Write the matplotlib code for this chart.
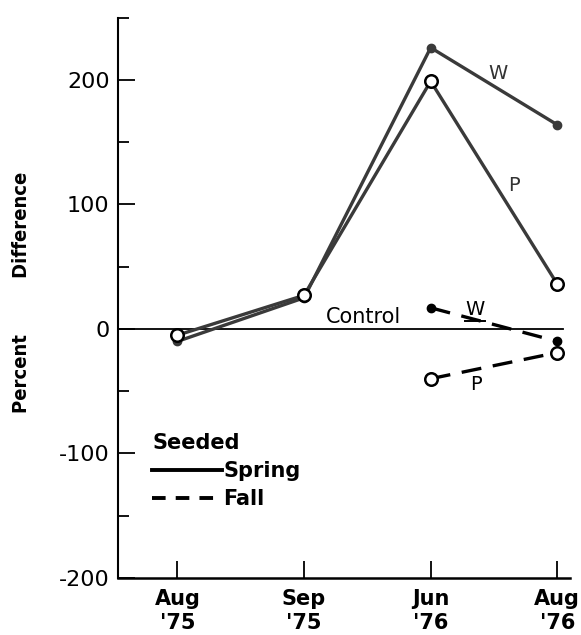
import matplotlib
matplotlib.use("Agg")
import matplotlib.pyplot as plt
import numpy as np

categories = ["Aug\n'75", "Sep\n'75", "Jun\n'76", "Aug\n'76"]
spring_w = [-10, 25, 226, 164]
spring_p = [-5, 27, 199, 36]
fall_w = [17, -10]
fall_p = [-40, -19]
fall_idx = [2, 3]
yticks_major = [-200, -100, 0, 100, 200]
ytick_labels = ["-200", "-100", "0", "100", "200"]
yticks_minor = [-150, -50, 50, 150, 250]

plt.rcParams['font.family'] = ['DejaVu Sans']
fig = plt.figure(figsize=(5.81, 6.35), dpi=100)
ax = fig.add_axes([0.203, 0.09, 0.778, 0.882])

x = np.arange(len(categories))
lc = '#3a3a3a'
lw = 2.4
dash = (0, (6, 3.5))
ax.plot(x, spring_w, '-', color=lc, lw=lw, marker='o', ms=6, mfc=lc, mec=lc, zorder=3)
ax.plot(x, spring_p, '-', color=lc, lw=lw, marker='o', ms=9, mfc='white', mec='black', mew=1.8, zorder=4)
ax.plot(fall_idx, fall_w, color='black', lw=2.4, ls=dash, marker='o', ms=6, mfc='black', mec='black', zorder=3)
ax.plot(fall_idx, fall_p, color='black', lw=2.4, ls=dash, marker='o', ms=9, mfc='white', mec='black', mew=1.8, zorder=4)

ax.axhline(0, color='black', lw=1.3, xmin=0, xmax=0.985, zorder=1)
ax.text(1.47, 1.5, 'Control', fontsize=15, ha='center', va='bottom')

ax.text(2.53, 205, 'W', fontsize=14, ha='center', va='center', color='#333333')
ax.text(2.66, 115, 'P', fontsize=14, ha='center', va='center', color='#333333')
ax.text(2.35, 16, 'W', fontsize=14, ha='center', va='center')
ax.plot([2.27, 2.43], [6, 6], color='black', lw=1.4)
ax.text(2.36, -45, 'P', fontsize=14, ha='center', va='center')

# legend drawn manually
ax.text(-0.2, -92, 'Seeded', fontsize=15, fontweight='bold', ha='left', va='center')
ax.plot([-0.2, 0.355], [-113, -113], color='black', lw=2.8)
ax.text(0.36, -114, 'Spring', fontsize=15, fontweight='bold', ha='left', va='center')
ax.plot([-0.2, 0.355], [-136, -136], color='black', lw=2.8, ls=(0, (3.5, 2.6)))
ax.text(0.36, -137, 'Fall', fontsize=15, fontweight='bold', ha='left', va='center')

ax.set_xlim(-0.47, 3.1)
ax.set_ylim(-200, 250)
ax.set_xticks(x)
ax.set_xticklabels(categories, fontsize=15, fontweight='bold', linespacing=1.25)
ax.set_yticks(yticks_major)
ax.set_yticklabels(ytick_labels, fontsize=16)
ax.set_yticks(yticks_minor, minor=True)
ax.tick_params(axis='y', which='major', direction='in', length=12, width=1.3, pad=6)
ax.tick_params(axis='y', which='minor', direction='in', length=8, width=1.3)
ax.tick_params(axis='x', which='major', direction='in', length=12, width=1.3, pad=8)
for s in ['top', 'right']:
    ax.spines[s].set_visible(False)
ax.spines['left'].set_linewidth(1.5)
ax.spines['bottom'].set_linewidth(1.8)
fig.text(22 / 581, 1 - 292 / 635, 'Percent         Difference', fontsize=14.5, fontweight='bold',
         fontstretch='condensed', rotation=90, ha='center', va='center')

fig.savefig('out.png', dpi=100)
